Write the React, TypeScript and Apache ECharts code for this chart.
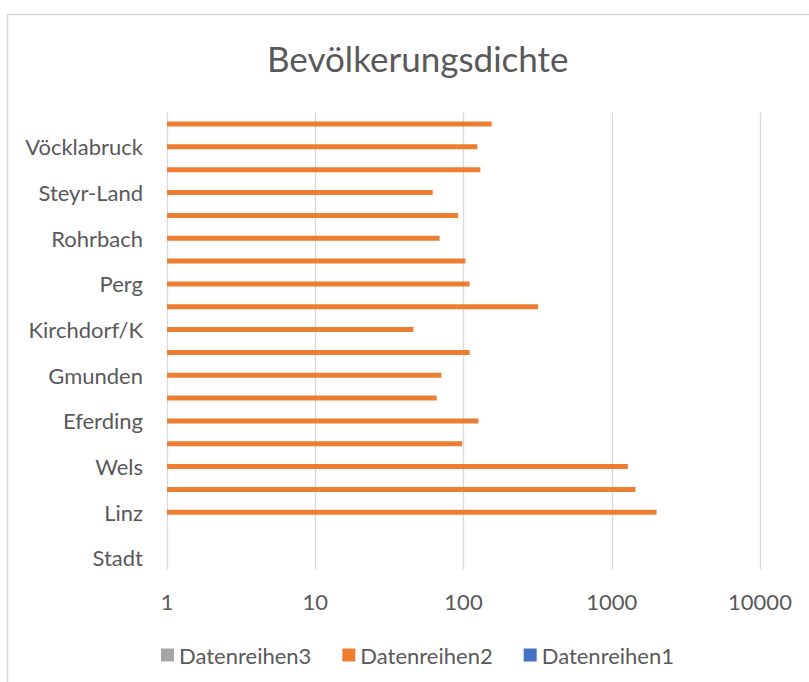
import React, { useEffect, useRef } from "react";
import * as echarts from "echarts";

const categories = [
  "Stadt", "", "Linz", "Steyr", "Wels", "Braunau", "Eferding", "Freistadt",
  "Gmunden", "Grieskirchen", "Kirchdorf/K", "Linz-Land", "Perg", "Ried",
  "Rohrbach", "Schärding", "Steyr-Land", "Urfahr-Umgebung", "Vöcklabruck", "Wels-Land",
];
const series2Values = [
  null, null, 2005, 1446, 1284, 98, 126, 66, 71, 110, 46, 319, 110, 103, 69, 92, 62, 130, 124, 155,
];
const series1Values = categories.map(() => null);
const series3Values = categories.map(() => null);
const xTicks = [1, 10, 100, 1000, 10000];
const legendOrder = ["Datenreihen3", "Datenreihen2", "Datenreihen1"];

const FONT = "Lato, 'Open Sans', sans-serif";
const TXT = "#595959";

export default function App() {
  const ref = useRef<HTMLDivElement>(null);
  useEffect(() => {
    if (!ref.current) return;
    const chart = echarts.init(ref.current, null, { renderer: "svg" });
    chart.setOption({
      animation: false,
      backgroundColor: "#ffffff",
      textStyle: { fontFamily: FONT },
      title: {
        text: "Bevölkerungsdichte",
        left: 262,
        top: 35,
        textStyle: { fontFamily: FONT, fontSize: 35, fontWeight: "normal", color: TXT },
      },
      graphic: [
        {
          type: "rect",
          shape: { x: 7.5, y: 14.5, width: 830, height: 700 },
          style: { fill: "none", stroke: "#d9d9d9", lineWidth: 1.6 },
          silent: true,
        },
      ],
      legend: {
        data: legendOrder,
        left: 156,
        top: 639,
        itemWidth: 13,
        itemHeight: 13,
        itemGap: 31,
        icon: "rect",
        textStyle: { fontFamily: FONT, fontSize: 22, color: TXT },
      },
      grid: { left: 167, right: 49, top: 112.6, bottom: 112.6, containLabel: false },
      xAxis: {
        type: "log",
        logBase: 10,
        min: xTicks[0],
        max: xTicks[xTicks.length - 1],
        axisLine: { show: false },
        axisTick: { show: false },
        axisLabel: {
          fontFamily: FONT,
          fontSize: 22,
          color: TXT,
          margin: 21,
          formatter: (v: number) => String(Math.round(v)),
        },
        splitLine: { show: true, lineStyle: { color: "#d9d9d9", width: 1.3 } },
      },
      yAxis: {
        type: "category",
        data: categories,
        axisLine: { show: false },
        axisTick: { show: false },
        splitLine: { show: false },
        axisLabel: {
          interval: 1,
          fontFamily: FONT,
          fontSize: 22,
          color: TXT,
          margin: 24,
        },
      },
      series: [
        { name: "Datenreihen1", type: "bar", data: series1Values, barWidth: 5, itemStyle: { color: "#4472C4" } },
        { name: "Datenreihen2", type: "bar", data: series2Values, barWidth: 5, itemStyle: { color: "#ED7D31" } },
        { name: "Datenreihen3", type: "bar", data: series3Values, barWidth: 5, itemStyle: { color: "#A5A5A5" } },
      ],
    });
    return () => chart.dispose();
  }, []);
  return (
    <div
      ref={ref}
      style={{ position: "fixed", left: 0, top: 0, width: 809, height: 682 }}
    />
  );
}
